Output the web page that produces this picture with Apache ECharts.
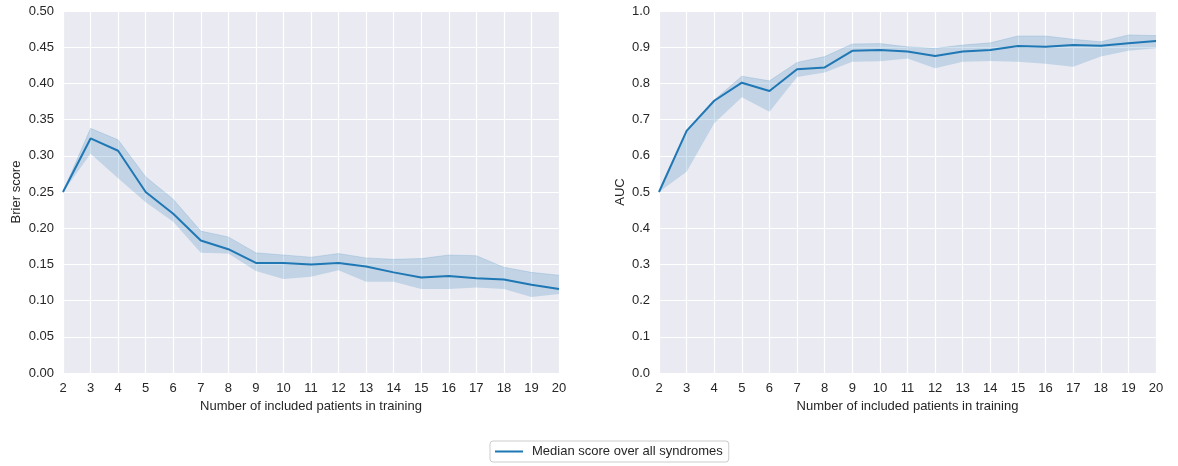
<!DOCTYPE html>
<html>
<head>
<meta charset="utf-8">
<script src="https://cdn.jsdelivr.net/npm/echarts@6/dist/echarts.min.js"></script>
<style>
  html, body { margin: 0; padding: 0; background: #fff; }
  #chart { width: 1178px; height: 466px; }
</style>
</head>
<body>
<div id="chart"></div>
<script>
// number of included patients in training
const patients = ['2','3','4','5','6','7','8','9','10','11','12','13','14','15','16','17','18','19','20'];

// Brier score (left panel)
const brierMedian = [0.250, 0.324, 0.307, 0.250, 0.220, 0.183, 0.171, 0.152, 0.152, 0.150, 0.152, 0.147, 0.139, 0.132, 0.134, 0.131, 0.129, 0.122, 0.116];
const brierLower  = [0.250, 0.303, 0.269, 0.236, 0.209, 0.166, 0.165, 0.141, 0.130, 0.133, 0.142, 0.126, 0.126, 0.116, 0.116, 0.118, 0.116, 0.105, 0.109];
const brierUpper  = [0.250, 0.338, 0.322, 0.271, 0.240, 0.196, 0.188, 0.166, 0.163, 0.160, 0.165, 0.159, 0.157, 0.158, 0.163, 0.162, 0.146, 0.139, 0.135];

// AUC (right panel)
const aucMedian = [0.500, 0.669, 0.752, 0.802, 0.779, 0.839, 0.844, 0.890, 0.892, 0.888, 0.876, 0.888, 0.892, 0.903, 0.901, 0.906, 0.904, 0.911, 0.917];
const aucLower  = [0.500, 0.556, 0.690, 0.762, 0.722, 0.818, 0.830, 0.860, 0.861, 0.869, 0.842, 0.860, 0.862, 0.860, 0.854, 0.846, 0.874, 0.890, 0.897];
const aucUpper  = [0.500, 0.670, 0.754, 0.820, 0.807, 0.858, 0.874, 0.909, 0.910, 0.901, 0.897, 0.906, 0.912, 0.931, 0.931, 0.922, 0.915, 0.934, 0.932];

const legendName = 'Median score over all syndromes';
const lineColor = '#1f77b4';
const textColor = '#262626';
const font = 'Liberation Sans, Arial, sans-serif';

const chart = echarts.init(document.getElementById('chart'), null, {renderer: 'canvas'});

function xAxis(gridIndex) {
  return {
    type: 'category',
    gridIndex: gridIndex,
    data: patients,
    boundaryGap: false,
    name: 'Number of included patients in training',
    nameLocation: 'middle',
    nameGap: 27,
    nameTextStyle: {color: textColor, fontSize: 13, fontFamily: font},
    axisLine: {show: false},
    axisTick: {show: false},
    axisLabel: {color: textColor, fontSize: 13, fontFamily: font, margin: 9, interval: 0},
    splitLine: {show: true, interval: 0, lineStyle: {color: '#fff', width: 1.2}}
  };
}

function yAxis(gridIndex, name, max, interval, digits, gap) {
  return {
    type: 'value',
    gridIndex: gridIndex,
    min: 0,
    max: max,
    interval: interval,
    name: name,
    nameLocation: 'middle',
    nameGap: gap,
    nameTextStyle: {color: textColor, fontSize: 13, fontFamily: font},
    axisLine: {show: false},
    axisTick: {show: false},
    axisLabel: {color: textColor, fontSize: 13, fontFamily: font, margin: 9,
      formatter: v => v.toFixed(digits)},
    splitLine: {show: true, lineStyle: {color: '#fff', width: 1.2}}
  };
}

// band = lower (invisible) + (upper - lower) stacked with fill
function band(idx, lower, upper, stackName) {
  return [
    {
      type: 'line', xAxisIndex: idx, yAxisIndex: idx,
      data: lower, stack: stackName, symbol: 'none',
      lineStyle: {opacity: 0}, silent: true, z: 1
    },
    {
      type: 'line', xAxisIndex: idx, yAxisIndex: idx,
      data: upper.map((u, i) => +(u - lower[i]).toFixed(4)),
      stack: stackName, symbol: 'none',
      lineStyle: {width: 0.8, color: lineColor, opacity: 0.2},
      areaStyle: {color: lineColor, opacity: 0.2},
      silent: true, z: 1
    }
  ];
}

chart.setOption({
  backgroundColor: '#fff',
  animation: false,
  textStyle: {fontFamily: font},
  grid: [
    {left: 63, right: 619, top: 11, bottom: 93, show: true, backgroundColor: '#eaeaf2', borderWidth: 0},
    {left: 659, right: 22, top: 11, bottom: 93, show: true, backgroundColor: '#eaeaf2', borderWidth: 0}
  ],
  xAxis: [xAxis(0), xAxis(1)],
  yAxis: [
    yAxis(0, 'Brier score', 0.5, 0.05, 2, 40),
    yAxis(1, 'AUC', 1.0, 0.1, 1, 32)
  ],
  legend: {
    data: [legendName],
    top: 441,
    left: 490,
    backgroundColor: '#fff',
    borderColor: '#cccccc',
    borderWidth: 1,
    borderRadius: 3,
    padding: [4, 6, 4, 5],
    icon: 'path://M0,0 L28,0 L28,2 L0,2 Z',
    itemWidth: 28,
    itemHeight: 2,
    itemGap: 10,
    textStyle: {color: textColor, fontSize: 13, fontFamily: font, padding: [0, 0, 0, 4]}
  },
  series: [
    ...band(0, brierLower, brierUpper, 'brierBand'),
    {
      name: legendName, type: 'line', xAxisIndex: 0, yAxisIndex: 0,
      data: brierMedian, symbol: 'none',
      lineStyle: {color: lineColor, width: 2}, itemStyle: {color: lineColor}, z: 3
    },
    ...band(1, aucLower, aucUpper, 'aucBand'),
    {
      name: legendName, type: 'line', xAxisIndex: 1, yAxisIndex: 1,
      data: aucMedian, symbol: 'none',
      lineStyle: {color: lineColor, width: 2}, itemStyle: {color: lineColor}, z: 3
    }
  ]
});
</script>
</body>
</html>
